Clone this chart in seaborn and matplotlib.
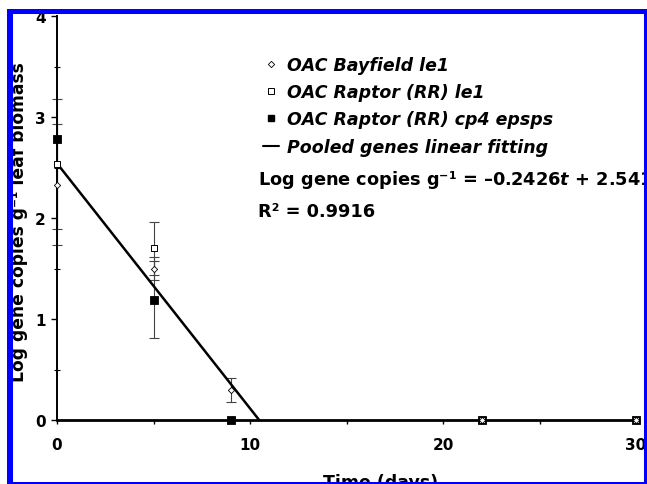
import numpy as np
import pandas as pd
import matplotlib
matplotlib.use("Agg")
import matplotlib.pyplot as plt
import seaborn as sns
from matplotlib.lines import Line2D
from matplotlib.patches import Rectangle
from matplotlib.ticker import MultipleLocator

# ---------------- data ----------------
days_bay = [0, 5, 9, 22, 30]
bay_le1 = [2.33, 1.50, 0.30, 0.0, 0.0]
bay_err = [0.60, 0.11, 0.12, np.nan, np.nan]

days_rr = [0, 5, 22, 30]
rr_le1 = [2.535, 1.70, 0.0, 0.0]
rr_err = [0.645, 0.26, np.nan, np.nan]

days_cp4 = [0, 5, 9, 22, 30]
rr_cp4 = [2.78, 1.19, 0.0, 0.0, 0.0]
cp4_err = [np.nan, 0.38, np.nan, np.nan, np.nan]

fit_slope = -0.2426
fit_intercept = 2.541
r_squared = 0.9916

labels = ["OAC Bayfield le1", "OAC Raptor (RR) le1",
          "OAC Raptor (RR) cp4 epsps", "Pooled genes linear fitting"]
x_ticks = [0, 10, 20, 30]
y_ticks = [0, 1, 2, 3, 4]

# ---------------- style ----------------
sns.set_theme(style="white")
plt.rcParams["font.family"] = ["DejaVu Sans"]
plt.rcParams["mathtext.fontset"] = "custom"
plt.rcParams["mathtext.rm"] = "DejaVu Sans:bold"
plt.rcParams["mathtext.it"] = "DejaVu Sans:bold:italic"
plt.rcParams["mathtext.bf"] = "DejaVu Sans:bold"
plt.rcParams["text.color"] = "black"

W, H = 647, 485
fig = plt.figure(figsize=(W / 100, H / 100), dpi=100)
fig.patch.set_facecolor("white")
ax = fig.add_axes([57 / W, 1 - 421 / H, (636 - 57) / W, (421 - 17) / H])
ax.set_facecolor("white")

# fit line
t_end = -fit_intercept / fit_slope
fit_df = pd.DataFrame({"t": [0.0, t_end],
                       "y": [fit_intercept, fit_intercept + fit_slope * t_end]})
sns.lineplot(data=fit_df, x="t", y="y", ax=ax, color="black", lw=1.8, zorder=3)

# error bars
for d, v, e in [(days_bay, bay_le1, bay_err), (days_rr, rr_le1, rr_err),
                (days_cp4, rr_cp4, cp4_err)]:
    ax.errorbar(d, v, yerr=e, fmt="none", ecolor="#444444", elinewidth=0.8,
                capsize=3.5, capthick=0.8, clip_on=False, zorder=2)

# markers
sns.scatterplot(x=days_cp4, y=rr_cp4, ax=ax, marker="s", s=30, color="black",
                edgecolor="black", linewidth=0.6, clip_on=False, zorder=4)
sns.scatterplot(x=days_rr, y=rr_le1, ax=ax, marker="s", s=18, color="white",
                edgecolor="black", linewidth=0.7, clip_on=False, zorder=5)
sns.scatterplot(x=days_bay, y=bay_le1, ax=ax, marker="D", s=10, color="white",
                edgecolor="black", linewidth=0.6, clip_on=False, zorder=6)

ax.set_xlim(0, 30)
ax.set_ylim(0, 4)
ax.set_xticks(x_ticks)
ax.set_yticks(y_ticks)
ax.xaxis.set_minor_locator(MultipleLocator(5))
ax.yaxis.set_minor_locator(MultipleLocator(0.5))
ax.set_xlabel("")
ax.set_ylabel("")
for s in ["top", "right"]:
    ax.spines[s].set_visible(False)
ax.spines["left"].set_linewidth(1.4)
ax.spines["bottom"].set_linewidth(2.0)
ax.spines["left"].set_color("black")
ax.spines["bottom"].set_color("black")

ax.tick_params(axis="y", which="major", direction="out", length=4, width=1,
               pad=4, labelsize=11, left=True, color="black")
ax.tick_params(axis="y", which="minor", direction="inout", length=5, width=0.8,
               left=True, color="black")
ax.tick_params(axis="x", which="major", direction="out", length=3, width=1,
               pad=9, labelsize=11, bottom=True, color="black")
ax.tick_params(axis="x", which="minor", direction="out", length=3, width=1,
               bottom=True, color="black")
for lab in ax.get_xticklabels() + ax.get_yticklabels():
    lab.set_fontweight("bold")
    lab.set_color("black")

# axis titles
fig.text(19 / W, 1 - 222 / H, "Log gene copies g\u207b\u00b9 leaf biomass",
         rotation=90, ha="center", va="center", fontsize=12.3,
         fontweight="bold", color="black")
fig.text(381 / W, 1 - 483 / H, "Time (days)", ha="center", va="center",
         fontsize=12.5, fontweight="bold", color="black")

# legend
handles = [
    Line2D([], [], ls="none", marker="D", ms=3.2, mfc="white", mec="black", mew=0.6),
    Line2D([], [], ls="none", marker="s", ms=4.2, mfc="white", mec="black", mew=0.7),
    Line2D([], [], ls="none", marker="s", ms=5, mfc="black", mec="black"),
    Line2D([], [], color="black", lw=1.5),
]
leg = fig.legend(handles, labels, loc="upper left",
                 bbox_to_anchor=(263 / W, 1 - 57 / H), frameon=False,
                 prop={"weight": "bold", "style": "italic", "size": 12.5},
                 handlelength=0.92, handletextpad=0.45, labelspacing=0.53,
                 borderpad=0, borderaxespad=0)
for t in leg.get_texts():
    t.set_color("black")

fig.text(258 / W, 1 - 180 / H,
         "Log gene copies g\u207b\u00b9 = \u20130.2426$t$ + 2.541",
         ha="left", va="center", fontsize=12.8, fontweight="bold", color="black")
fig.text(258 / W, 1 - 212 / H, "R\u00b2 = 0.9916", ha="left", va="center",
         fontsize=12.8, fontweight="bold", color="black")

# blue frame
blue = "#0000ff"
for (x0, y0, x1, y1) in [(7, 10, 13, 485), (7, 10, 647, 15),
                         (644, 10, 647, 485), (7, 483, 647, 485)]:
    fig.patches.append(Rectangle((x0 / W, 1 - y1 / H), (x1 - x0) / W,
                                 (y1 - y0) / H, transform=fig.transFigure,
                                 facecolor=blue, edgecolor="none", zorder=10))

fig.savefig("out.png", dpi=100, facecolor="white")
